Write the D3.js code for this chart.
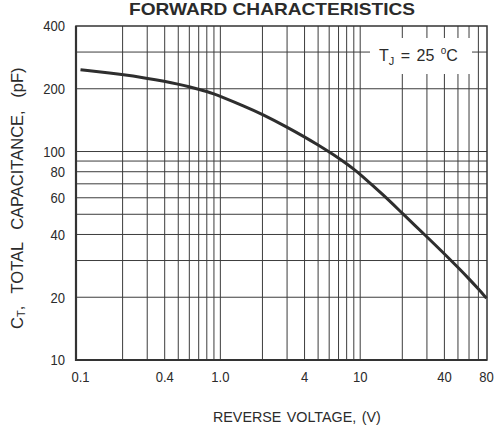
<!DOCTYPE html>
<html>
<head>
<meta charset="utf-8">
<script src="https://cdn.jsdelivr.net/npm/d3@7"></script>
<style>
  body { margin: 0; background: #fff; }
  svg { display: block; }
  text { fill: #2b2b2b; font-family: "Liberation Sans", Arial, sans-serif; }
  .tick { font-size: 15px; }
</style>
</head>
<body>
<div id="chart"></div>
<script>
// reverse voltage (V) and total capacitance (pF)
const voltage = [0.1, 0.2, 0.3, 0.4, 0.5, 0.6, 0.7, 0.8, 0.9, 1.0, 1.5, 2, 3, 4, 5, 6, 7, 8, 9, 10, 15, 20, 30, 40, 50, 60, 70, 80];
const capacitance = [247, 234, 224.5, 217, 210.5, 204.5, 199, 194, 189, 184, 164.5, 151, 131, 117.5, 107.5, 99.5, 93, 87.3, 82.3, 77.8, 61, 50.5, 39, 32.3, 27.8, 24.5, 21.9, 19.8];

const xGrid = [0.2, 0.3, 0.4, 0.5, 0.6, 0.7, 0.8, 0.9, 1, 2, 3, 4, 5, 6, 7, 8, 9, 10, 20, 30, 40, 50, 60, 70];
const yGrid = [20, 30, 40, 50, 60, 70, 80, 90, 100, 200, 300];
const xTicks = [0.1, 0.4, 1.0, 4, 10, 40, 80];
const xTickLabels = ["0.1", "0.4", "1.0", "4", "10", "40", "80"];
const yTicks = [10, 20, 40, 60, 80, 100, 200, 400];

const W = 499, H = 425;
const frame = {left: 76, right: 487, top: 26, bottom: 360};

const svg = d3.select("#chart").append("svg")
  .attr("width", W).attr("height", H);

const x = d3.scaleLog().domain([0.1, 80]).range([80.5, 486.5]);
const y = d3.scaleLog().domain([10, 400]).range([frame.bottom, frame.top]);

// grid
const grid = svg.append("g").attr("stroke", "#3c3c3c").attr("stroke-width", 1);
grid.selectAll("line.v").data(xGrid).enter().append("line")
  .attr("x1", d => x(d)).attr("x2", d => x(d))
  .attr("y1", frame.top).attr("y2", frame.bottom);
grid.selectAll("line.h").data(yGrid).enter().append("line")
  .attr("y1", d => y(d)).attr("y2", d => y(d))
  .attr("x1", frame.left).attr("x2", frame.right);

// label box knocks out the grid
svg.append("rect")
  .attr("x", 370).attr("y", 38).attr("width", 102).attr("height", 36)
  .attr("fill", "#fff");

const tj = svg.append("text").attr("x", 379).attr("y", 61)
  .attr("font-size", 16).attr("word-spacing", 2);
tj.append("tspan").text("T");
tj.append("tspan").attr("font-size", 11).attr("dy", 4).text("J");
tj.append("tspan").attr("dy", -4).text(" = 25 ");
tj.append("tspan").attr("font-size", 10).attr("dy", -7).text("o");
tj.append("tspan").attr("dy", 7).text("C");

// frame
svg.append("rect")
  .attr("x", frame.left).attr("y", frame.top)
  .attr("width", frame.right - frame.left).attr("height", frame.bottom - frame.top)
  .attr("fill", "none").attr("stroke", "#333").attr("stroke-width", 1.5);
svg.append("line").attr("x1", frame.left).attr("x2", frame.left)
  .attr("y1", frame.top).attr("y2", frame.bottom + 1)
  .attr("stroke", "#333").attr("stroke-width", 2.2);
svg.append("line").attr("x1", frame.left).attr("x2", frame.right)
  .attr("y1", frame.bottom).attr("y2", frame.bottom)
  .attr("stroke", "#333").attr("stroke-width", 2.2);

// curve
const line = d3.line()
  .x((d, i) => x(voltage[i]))
  .y(d => y(d))
  .curve(d3.curveBasis);
svg.append("path")
  .attr("d", line(capacitance))
  .attr("fill", "none").attr("stroke", "#2e2e2e").attr("stroke-width", 3);

// tick labels, slightly condensed like the original
svg.selectAll("text.xt").data(xTicks).enter().append("text")
  .attr("class", "tick")
  .attr("transform", d => `translate(${x(d)},382) scale(0.87,1)`)
  .attr("text-anchor", "middle")
  .text((d, i) => xTickLabels[i]);
svg.selectAll("text.yt").data(yTicks).enter().append("text")
  .attr("class", "tick")
  .attr("transform", d => `translate(65,${y(d)}) scale(0.87,1)`)
  .attr("dy", "0.36em")
  .attr("text-anchor", "end")
  .text(d => d);

// titles
svg.append("text")
  .attr("x", 129).attr("y", 14.5)
  .attr("font-size", 17).attr("font-weight", "bold")
  .attr("textLength", 286).attr("lengthAdjust", "spacingAndGlyphs")
  .text("FORWARD CHARACTERISTICS");

svg.append("text")
  .attr("x", 213).attr("y", 422)
  .attr("font-size", 14.3).attr("word-spacing", 1.5)
  .text("REVERSE VOLTAGE, (V)");

const yl = svg.append("text")
  .attr("transform", "translate(23,329) rotate(-90)")
  .attr("font-size", 16.5).attr("word-spacing", 8);
yl.append("tspan").text("C");
yl.append("tspan").attr("font-size", 11).attr("dy", 2).text("T");
yl.append("tspan").attr("dy", -2).text(", TOTAL CAPACITANCE, (pF)");
</script>
</body>
</html>
